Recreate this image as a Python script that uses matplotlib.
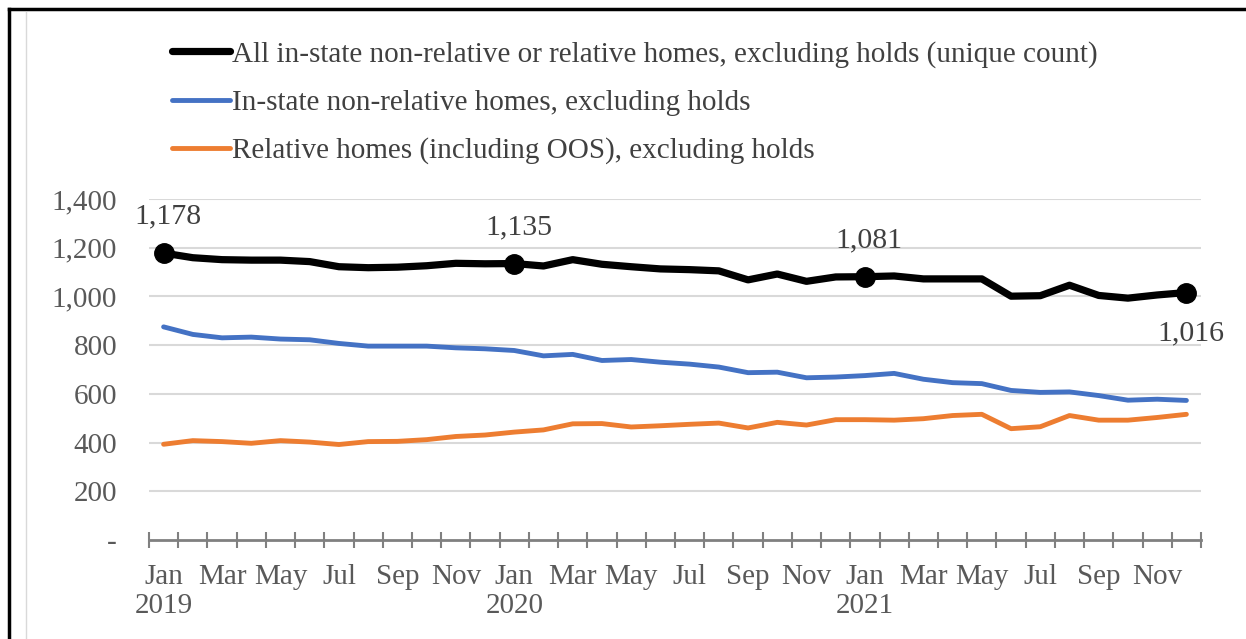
import matplotlib
matplotlib.use("Agg")
import matplotlib.pyplot as plt
from matplotlib.lines import Line2D
import numpy as np

plt.rcParams['font.family'] = ['Liberation Serif', 'DejaVu Serif']

months = ["Jan", "Feb", "Mar", "Apr", "May", "Jun", "Jul", "Aug", "Sep", "Oct", "Nov", "Dec"]
years = [2019, 2020, 2021]

all_homes = [1178, 1159, 1151, 1149, 1149, 1143, 1122, 1118, 1120, 1126, 1136, 1134,
             1135, 1125, 1151, 1132, 1122, 1113, 1110, 1105, 1068, 1092, 1062, 1080,
             1081, 1084, 1072, 1072, 1072, 1001, 1003, 1046, 1004, 993, 1006, 1016]
nonrel = [875, 844, 830, 833, 825, 822, 807, 796, 796, 796, 789, 785,
          778, 756, 762, 737, 741, 730, 722, 710, 687, 689, 666, 669,
          675, 684, 660, 646, 642, 614, 606, 608, 593, 574, 578, 573]
relative = [393, 408, 404, 397, 408, 402, 392, 404, 405, 412, 425, 431,
            443, 452, 477, 478, 464, 469, 475, 480, 460, 483, 472, 494,
            494, 492, 498, 511, 516, 457, 465, 511, 492, 492, 503, 516]

labels = ["All in-state non-relative or relative homes, excluding holds (unique count)",
          "In-state non-relative homes, excluding holds",
          "Relative homes (including OOS), excluding holds"]
colors = ["#000000", "#4472C4", "#ED7D31"]
marked_idx = [0, 12, 24, 35]
yticks = [0, 200, 400, 600, 800, 1000, 1200, 1400]

x = np.arange(len(all_homes))

fig = plt.figure(figsize=(12.46, 6.39), dpi=100)
ax = fig.add_axes([149/1246, 1-540/639, (1201-149)/1246, (540-199)/639])

for v in yticks[1:]:
    ax.axhline(v, color="#d9d9d9", lw=1.5, zorder=0)

ax.plot(x, all_homes, color=colors[0], lw=5.2, solid_joinstyle='round', solid_capstyle='round', zorder=4)
ax.plot(x, nonrel, color=colors[1], lw=3.5, solid_joinstyle='round', solid_capstyle='round', zorder=3)
ax.plot(x, relative, color=colors[2], lw=3.5, solid_joinstyle='round', solid_capstyle='round', zorder=3)
ax.plot(x[marked_idx], np.array(all_homes)[marked_idx], 'o', color='black', ms=14, zorder=5)

for i in marked_idx:
    v = all_homes[i]
    if i == 35:
        ax.annotate(f"{v:,}", (x[i], v), xytext=(3, -20), textcoords='offset points',
                    ha='center', va='top', fontsize=21.5, color='#404040')
    else:
        ax.annotate(f"{v:,}", (x[i], v), xytext=(3, 17), textcoords='offset points',
                    ha='center', va='bottom', fontsize=21.5, color='#404040')

ax.set_xlim(-0.5, len(x) - 0.5)
ax.set_ylim(0, 1400)

ax.set_yticks(yticks)
ax.set_yticklabels(["-" if v == 0 else f"{v:,}" for v in yticks], fontsize=21, color='#595959')
ax.tick_params(axis='y', length=0, pad=23)

# category boundaries as major ticks
ax.set_xticks(np.arange(-0.5, len(x), 1.0))
ax.set_xticklabels([])
ax.tick_params(axis='x', which='major', direction='inout', length=12, width=1.5, color='#808080')
# labels on minor ticks at every other month
lab_pos = x[::2]
lab_txt = []
for i in lab_pos:
    m = months[i % 12]
    if i % 12 == 0:
        lab_txt.append(f"{m}\n{years[i // 12]}")
    else:
        lab_txt.append(m)
ax.set_xticks(lab_pos, minor=True)
ax.set_xticklabels(lab_txt, minor=True, fontsize=21, color='#595959', linespacing=1.15, va='top')
ax.tick_params(axis='x', which='minor', length=0, pad=17)

for s in ['top', 'right', 'left']:
    ax.spines[s].set_visible(False)
ax.spines['bottom'].set_color('#808080')
ax.spines['bottom'].set_linewidth(2)

handles = [Line2D([], [], color=colors[0], lw=5.2, solid_capstyle='round'),
           Line2D([], [], color=colors[1], lw=3.5, solid_capstyle='round'),
           Line2D([], [], color=colors[2], lw=3.5, solid_capstyle='round')]
leg = fig.legend(handles, labels, loc='upper left', bbox_to_anchor=(172/1246, 1-41/639),
                 frameon=False, fontsize=21, handlelength=2.0, handletextpad=0.05,
                 labelspacing=0.74, borderpad=0, borderaxespad=0)
for t in leg.get_texts():
    t.set_color('#404040')

# figure frame lines
fig.add_artist(Line2D([9/1246, 9/1246], [0, 1-9/639], color='black', lw=2.5, transform=fig.transFigure))
fig.add_artist(Line2D([9/1246, 1], [1-9/639, 1-9/639], color='black', lw=2.5, transform=fig.transFigure))
fig.add_artist(Line2D([26/1246, 26/1246], [0, 1-12/639], color='#d9d9d9', lw=1, transform=fig.transFigure))

fig.savefig("out.png", dpi=100)
